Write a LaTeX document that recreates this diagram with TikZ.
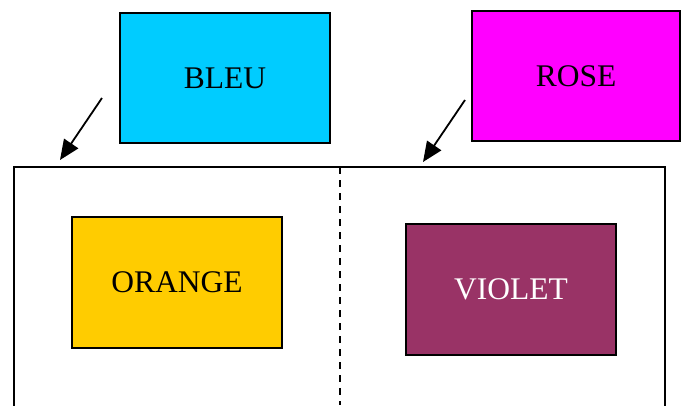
\documentclass[tikz,border=0pt]{standalone}
\usepackage{fontspec}
\setmainfont{Liberation Serif}
\usetikzlibrary{arrows.meta}
\begin{document}
\begin{tikzpicture}[x=1pt,y=-1pt,
  colbox/.style={draw=black,line width=1.8pt,inner sep=0pt,font=\fontsize{31.5}{36}\selectfont},
  arr/.style={line width=1.8pt,-{Triangle[length=20pt,width=17pt]}}]
\useasboundingbox (0,0) rectangle (695,405);
% big container (bottom edge beyond the picture)
\draw[line width=1.8pt] (14,420) -- (14,167) -- (665,167) -- (665,420);
\coordinate (divtop) at (340,167);
\coordinate (divbot) at (340,405);
\draw[dashed,line width=1.3pt,dash pattern=on 7pt off 6pt] (divtop) -- (divbot);
\node[colbox,fill={rgb,255:red,0;green,204;blue,255},minimum width=210,minimum height=130] (bleu) at (225,78) {BLEU};
\node[colbox,fill={rgb,255:red,255;green,0;blue,255},minimum width=208,minimum height=130] (rose) at (576,76) {ROSE};
\node[colbox,fill={rgb,255:red,255;green,204;blue,0},minimum width=210,minimum height=131] (orange) at (177,282.5) {ORANGE};
\node[colbox,fill={rgb,255:red,153;green,51;blue,102},text=white,minimum width=210,minimum height=131] (violet) at (511,289.5) {VIOLET};
\coordinate (a1s) at (102,98);
\coordinate (a1e) at (60,160);
\coordinate (a2s) at (465,100);
\coordinate (a2e) at (423,162);
\draw[arr] (a1s) -- (a1e);
\draw[arr] (a2s) -- (a2e);
\end{tikzpicture}
\end{document}
